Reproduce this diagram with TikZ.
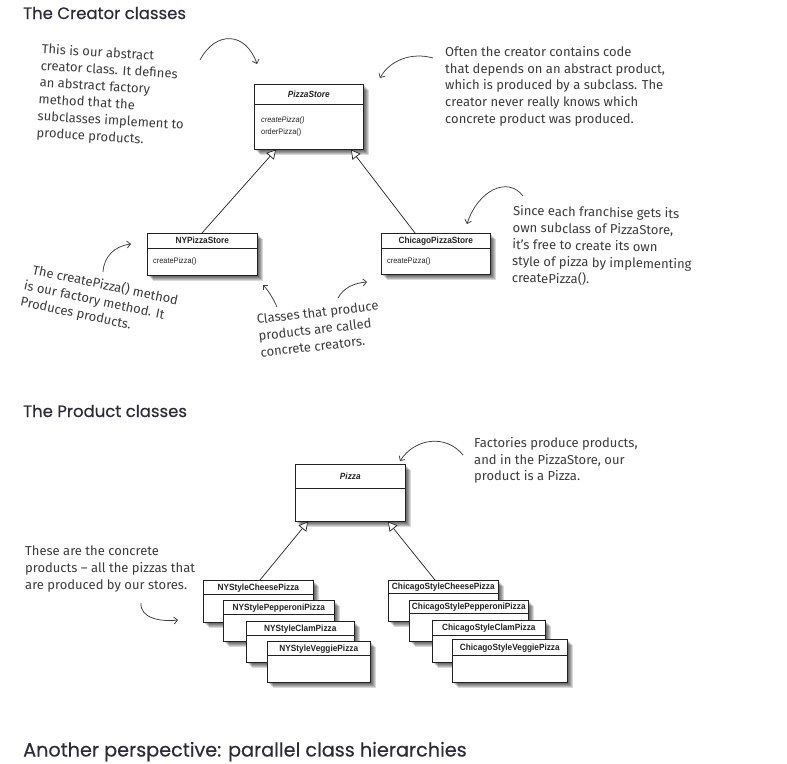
\documentclass[tikz,border=0pt]{standalone}
\usepackage{fontspec}
\usetikzlibrary{arrows.meta,calc,shadows}
\newfontfamily\headfont{Poppins}[FakeBold=0.3]
\newfontfamily\handfont{Fira Sans}
\newfontfamily\umlfont{Liberation Sans}[FakeStretch=0.92]
\definecolor{headc}{HTML}{2B2B3A}
\definecolor{handc}{HTML}{3C3C3C}
\definecolor{umlc}{HTML}{222222}
\tikzset{
  heading/.style={font=\headfont\fontsize{16.5}{20}\selectfont, text=headc, anchor=base west, inner sep=0pt},
  hand/.style={font=\handfont\fontsize{13}{16.8}\selectfont, text=handc, align=left, anchor=north west, inner sep=0pt},
  sh/.style={general shadow={fill=black, fill opacity=0.15, shadow xshift=#1pt, shadow yshift=-#1pt}},
  umlbox/.style={draw=umlc, line width=0.6pt, fill=white, anchor=north west, inner sep=0pt,
     sh=6, sh=5, sh=4, sh=3, sh=2},
  umltitle/.style={font=\umlfont\bfseries\fontsize{9}{10}\selectfont, text=umlc, inner sep=0pt, anchor=base},
  umlmeth/.style={font=\umlfont\fontsize{8}{9}\selectfont, text=umlc, inner sep=0pt, anchor=base west},
  inherit/.style={draw=umlc, line width=0.7pt, -{Triangle[length=9pt,width=10pt,fill=white]}},
  harrow/.style={draw=handc, line width=0.75pt, -{Straight Barb[length=3.5pt,width=7pt]}},
}
% #1 name, #2 x, #3 y, #4 width, #5 height, #6 header height, #7 title
\newcommand\classbox[7]{%
  \node[umlbox, minimum width=#4pt, minimum height=#5pt] (#1) at (#2,#3) {};
  \draw[draw=umlc, line width=0.6pt] ($(#1.north west)+(0,#6)$) -- ($(#1.north east)+(0,#6)$);
  \node[umltitle] (#1t) at ($(#1.north)+(0,#6/2+3.3)$) {#7};
}
\begin{document}
\begin{tikzpicture}[x=1pt,y=-1pt]
\useasboundingbox (0,0) rectangle (787,763);
\fill[white] (0,0) rectangle (787,763);

% headings
\node[heading] (h1) at (23,19) {The Creator classes};
\node[heading] (h2) at (23,417) {The Product classes};
\node[heading, font=\headfont\fontsize{19.2}{23}\selectfont] (h3) at (23,756.5) {Another perspective: parallel class hierarchies};

% creator classes
\classbox{ps}{254}{84}{109}{65}{20}{\itshape PizzaStore}
\node[umlmeth] (psm1) at (261,122) {\itshape createPizza()};
\node[umlmeth] (psm2) at (261,134) {orderPizza()};
\classbox{ny}{147}{233}{110}{42}{15}{NYPizzaStore}
\node[umlmeth] (nym1) at (153,263) {createPizza()};
\classbox{ch}{381}{233}{109}{41}{15}{ChicagoPizzaStore}
\node[umlmeth] (chm1) at (387,263) {createPizza()};
\draw[inherit] ($(ny.north west)+(55,0)$) -- ($(ps.south west)+(22,0)$);
\draw[inherit] ($(ch.north west)+(34,0)$) -- ($(ps.south west)+(97,0)$);

% product classes
\classbox{pz}{295}{464}{110}{57}{24}{\itshape Pizza}
\classbox{n1}{203}{580}{110}{42}{14}{NYStyleCheesePizza}
\classbox{n2}{223}{600}{111}{41}{14}{NYStylePepperoniPizza}
\classbox{n3}{246}{621}{108}{41}{14}{NYStyleClamPizza}
\classbox{n4}{267}{641}{103}{41}{14}{NYStyleVeggiePizza}
\classbox{c1}{388}{580}{110}{41}{13}{ChicagoStyleCheesePizza}
\classbox{c2}{409}{600}{119}{41}{13}{ChicagoStylePepperoniPizza}
\classbox{c3}{432}{620}{113}{42}{15}{ChicagoStyleClamPizza}
\classbox{c4}{452}{639}{115}{43}{16}{ChicagoStyleVeggiePizza}
\draw[inherit] ($(n1.north west)+(57,0)$) -- ($(pz.south west)+(13,0)$);
\draw[inherit] ($(c1.north west)+(47,0)$) -- ($(pz.south west)+(93,0)$);

% annotations
\node[hand, rotate=-3.5] (t1) at (42,43) {This is our abstract\\creator class. It defines\\an abstract factory\\method that the\\subclasses implement to\\produce products.};
\node[hand] (t2) at (445,46) {Often the creator contains code\\that depends on an abstract product,\\which is produced by a subclass. The\\creator never really knows which\\concrete product was produced.};
\node[hand, rotate=-1] (t3) at (513,205) {Since each franchise gets its\\own subclass of PizzaStore,\\it’s free to create its own\\style of pizza by implementing\\createPizza().};
\node[hand, rotate=-12] (t4) at (29,262) {\hspace*{5pt}The createPizza() method\\is our factory method. It\\Produces products.};
\node[hand, rotate=6.5] (t5) at (256,314) {Classes that produce\\products are called\\concrete creators.};
\node[hand] (t6) at (474,437) {Factories produce products,\\and in the PizzaStore, our\\product is a Pizza.};
\node[hand] (t7) at (25,546) {These are the concrete\\products – all the pizzas that\\are produced by our stores.};

% annotation arrows
\coordinate (a1s) at (200,60); \coordinate (a1e) at (257,64);
\draw[harrow] (a1s) .. controls (216,30) and (246,32) .. (a1e);
\coordinate (a2s) at (433,58); \coordinate (a2e) at (380,78);
\draw[harrow] (a2s) .. controls (412,52) and (390,60) .. (a2e);
\coordinate (a3s) at (523,196); \coordinate (a3e) at (467,224);
\draw[harrow] (a3s) .. controls (508,176) and (478,190) .. (a3e);
\coordinate (a4s) at (103,272); \coordinate (a4e) at (131,244);
\draw[harrow] (a4s) .. controls (104,256) and (115,246) .. (a4e);
\coordinate (a5s) at (277,307); \coordinate (a5e) at (263,285);
\draw[harrow] (a5s) .. controls (273,298) and (268,290) .. (a5e);
\coordinate (a6s) at (338,298); \coordinate (a6e) at (367,282);
\draw[harrow] (a6s) .. controls (344,287) and (355,283) .. (a6e);
\coordinate (a7s) at (463,455); \coordinate (a7e) at (400,461);
\draw[harrow] (a7s) .. controls (446,434) and (415,438) .. (a7e);
\coordinate (a8s) at (141,603); \coordinate (a8e) at (178,620);
\draw[harrow] (a8s) .. controls (140,618) and (160,622) .. (a8e);
\end{tikzpicture}
\end{document}
